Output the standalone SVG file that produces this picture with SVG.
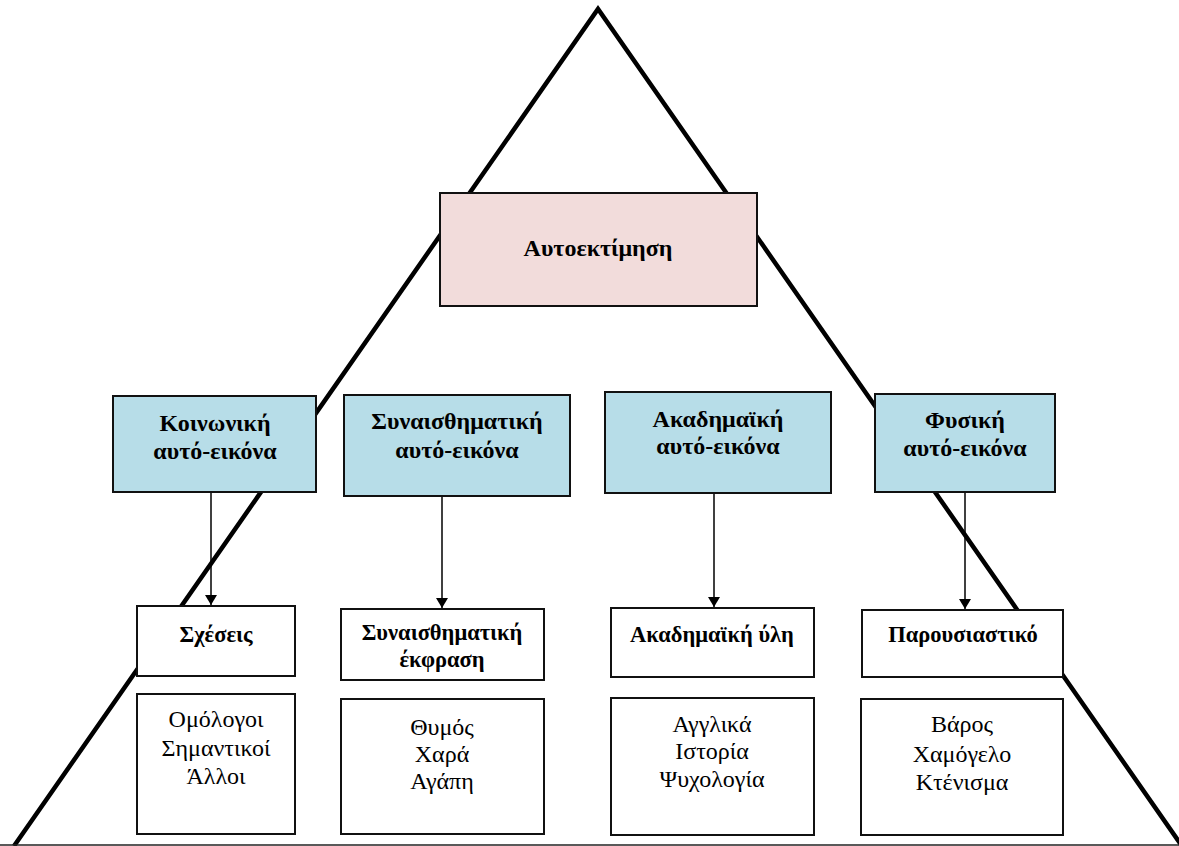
<svg xmlns="http://www.w3.org/2000/svg" width="1179" height="846" viewBox="0 0 1179 846">
<style>
.tri{stroke:#000;stroke-width:4.5;fill:none;stroke-linecap:butt}
.base{stroke:#222;stroke-width:1.5}
.box{stroke:#111;stroke-width:2;fill:#fff}
.pink{fill:#F2DCDB}
.blue{fill:#B7DDE8}
.conn{stroke:#000;stroke-width:1.5;fill:none}
text{font-family:"Liberation Serif","Times New Roman",serif;text-anchor:middle;fill:#000}
.h1{font-size:24px;font-weight:bold}
.h2{font-size:22.5px;font-weight:bold}
.b{font-size:24px}
</style>
<defs>
<marker id="ah" markerWidth="10" markerHeight="12" refX="10" refY="6" orient="auto" markerUnits="userSpaceOnUse">
<path d="M0,0 L10,6 L0,12 Z" fill="#000"/>
</marker>
</defs>
<rect width="1179" height="846" fill="#fff"/>
<g id="triangle">
<polyline class="tri" points="14,846 598,9 1182,846"/>
<line class="base" x1="0" y1="845" x2="1179" y2="845"/>
</g>
<g id="connectors">
<line class="conn" x1="211" y1="492" x2="211" y2="605" marker-end="url(#ah)"/>
<line class="conn" x1="442" y1="496" x2="442" y2="608" marker-end="url(#ah)"/>
<line class="conn" x1="714" y1="493" x2="714" y2="607" marker-end="url(#ah)"/>
<line class="conn" x1="965" y1="492" x2="965" y2="609" marker-end="url(#ah)"/>
</g>
<g id="autoektimisi">
<rect class="box pink" x="440" y="193" width="317" height="113"/>
<text class="h1" x="598" y="256">Αυτοεκτίμηση</text>
</g>
<g id="koinoniki">
<rect class="box blue" x="113" y="396" width="203" height="96"/>
<text class="h1" x="215" y="431">Κοινωνική</text>
<text class="h1" x="215" y="459">αυτό-εικόνα</text>
</g>
<g id="synaisthimatiki">
<rect class="box blue" x="344" y="395" width="226" height="101"/>
<text class="h1" x="457" y="429">Συναισθηματική</text>
<text class="h1" x="457" y="458">αυτό-εικόνα</text>
</g>
<g id="akadimaiki">
<rect class="box blue" x="605" y="392" width="226" height="101"/>
<text class="h1" x="718" y="427">Ακαδημαϊκή</text>
<text class="h1" x="718" y="454">αυτό-εικόνα</text>
</g>
<g id="fysiki">
<rect class="box blue" x="875" y="394" width="180" height="98"/>
<text class="h1" x="965" y="428">Φυσική</text>
<text class="h1" x="965" y="456">αυτό-εικόνα</text>
</g>
<g id="scheseis">
<rect class="box" x="137" y="606" width="158" height="70"/>
<text class="h2" x="216" y="642">Σχέσεις</text>
</g>
<g id="scheseis-list">
<rect class="box" x="137" y="694" width="158" height="140"/>
<text class="b" x="216" y="727">Ομόλογοι</text>
<text class="b" x="216" y="756">Σημαντικοί</text>
<text class="b" x="216" y="784">Άλλοι</text>
</g>
<g id="ekfrasi">
<rect class="box" x="341" y="609" width="203" height="71"/>
<text class="h2" x="442" y="640">Συναισθηματική</text>
<text class="h2" x="442" y="667">έκφραση</text>
</g>
<g id="ekfrasi-list">
<rect class="box" x="341" y="699" width="203" height="135"/>
<text class="b" x="442" y="735">Θυμός</text>
<text class="b" x="442" y="762">Χαρά</text>
<text class="b" x="442" y="789">Αγάπη</text>
</g>
<g id="yli">
<rect class="box" x="611" y="608" width="203" height="69"/>
<text class="h2" x="712" y="642">Ακαδημαϊκή ύλη</text>
</g>
<g id="yli-list">
<rect class="box" x="611" y="698" width="203" height="137"/>
<text class="b" x="712" y="732">Αγγλικά</text>
<text class="b" x="712" y="759">Ιστορία</text>
<text class="b" x="712" y="787">Ψυχολογία</text>
</g>
<g id="parousiastiko">
<rect class="box" x="862" y="610" width="201" height="67"/>
<text class="h2" x="963" y="642">Παρουσιαστικό</text>
</g>
<g id="parousiastiko-list">
<rect class="box" x="861" y="699" width="202" height="136"/>
<text class="b" x="962" y="732">Βάρος</text>
<text class="b" x="962" y="762">Χαμόγελο</text>
<text class="b" x="962" y="790">Κτένισμα</text>
</g>
</svg>
